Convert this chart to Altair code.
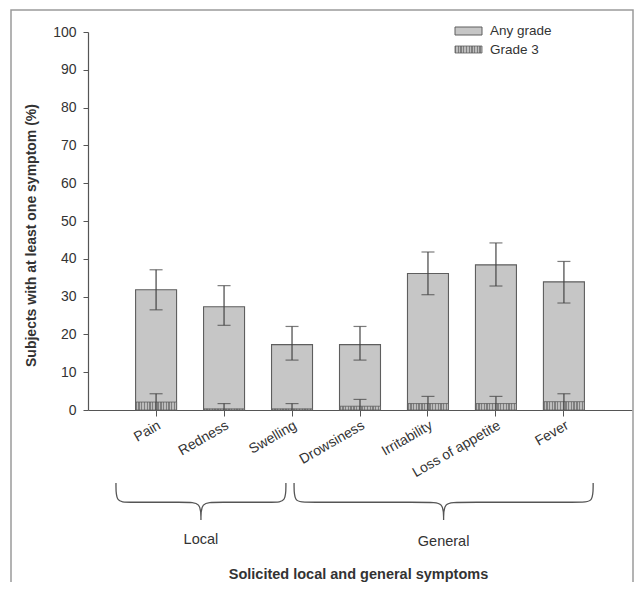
import altair as alt
import pandas as pd

# ---------------- data ----------------
symptoms = ["Pain", "Redness", "Swelling", "Drowsiness", "Irritability", "Loss of appetite", "Fever"]
any_grade = [31.8, 27.3, 17.3, 17.3, 36.1, 38.4, 33.9]
any_lo = [26.5, 22.4, 13.2, 13.2, 30.5, 32.8, 28.3]
any_hi = [37.1, 32.9, 22.1, 22.1, 41.8, 44.2, 39.3]
grade3 = [2.1, 0.3, 0.3, 1.0, 1.7, 1.7, 2.2]
g3_lo = [0, 0, 0, 0, 0, 0, 0]
g3_hi = [4.3, 1.7, 1.7, 2.8, 3.6, 3.6, 4.3]

y_ticks = [0, 10, 20, 30, 40, 50, 60, 70, 80, 90, 100]
legend_labels = ["Any grade", "Grade 3"]

brace_groups = ["Local", "General"]
brace_start = [-0.59, 2.03]   # in category-index units
brace_end = [1.91, 6.43]

y_title = "Subjects with at least one symptom (%)"
x_title = "Solicited local and general symptoms"

# ---------------- layout ----------------
W, H = 544, 378
P_IN, P_OUT = 0.397, 0.7
FONT = "Liberation Sans"
TXT = "#333333"
LINE = "#555555"

df = pd.DataFrame({
    "symptom": symptoms, "any": any_grade, "any_lo": any_lo, "any_hi": any_hi,
    "g3": grade3, "g3_lo": g3_lo, "g3_hi": g3_hi,
})


def stripes(n, c1, c2):
    stops = []
    for k in range(n):
        a, b, c = k / n, (k + 0.5) / n, (k + 1) / n
        stops += [alt.GradientStop(offset=a, color=c1), alt.GradientStop(offset=b, color=c1),
                  alt.GradientStop(offset=b, color=c2), alt.GradientStop(offset=c, color=c2)]
    return alt.Gradient(gradient="linear", stops=stops, x1=0, x2=1, y1=0, y2=0)


hatch_bar = stripes(15, "#7f7f7f", "#bdbdbd")
hatch_leg = stripes(10, "#7f7f7f", "#bdbdbd")

x_enc = alt.X(
    "symptom:N", sort=symptoms, title=x_title,
    scale=alt.Scale(paddingInner=P_IN, paddingOuter=P_OUT),
    axis=alt.Axis(labelAngle=330, labelAlign="right", labelBaseline="top",
                  labelFont=FONT, labelFontSize=14, labelColor=TXT, labelPadding=2,
                  tickSize=6, tickColor=LINE, domainColor=LINE, domainWidth=1.2,
                  titleFont=FONT, titleFontSize=14.5, titleFontWeight="bold", titleColor=TXT,
                  titleX=270, titleY=164, titleBaseline="middle"),
)

y_axis = alt.Axis(values=y_ticks, grid=False, tickSize=5, tickColor=LINE,
                  domainColor=LINE, domainWidth=1.2, labelOverlap=False,
                  labelFont=FONT, labelFontSize=14, labelColor=TXT, labelPadding=7,
                  titleFont=FONT, titleFontSize=14, titleFontWeight="bold",
                  titleColor=TXT, titleX=-57, titleY=203, titleBaseline="middle")
y_scale = alt.Scale(domain=[0, 100], nice=False)


def yq(field):
    return alt.Y(field, type="quantitative", title=y_title, scale=y_scale, axis=y_axis)


base = alt.Chart(df).encode(x=x_enc)

bars_any = base.mark_bar(fill="#c6c6c6", stroke="#5e5e5e", strokeWidth=1.1).encode(y=yq("any"))
bars_g3 = base.mark_bar(fill=hatch_bar, stroke="#5e5e5e", strokeWidth=0.8).encode(y=yq("g3"))

err_any = base.mark_rule(color="#444", strokeWidth=1.2).encode(y=yq("any_lo"), y2="any_hi:Q")
cap_any_hi = base.mark_tick(color="#444", size=13, thickness=1.2).encode(y=yq("any_hi"))
cap_any_lo = base.mark_tick(color="#444", size=13, thickness=1.2).encode(y=yq("any_lo"))
err_g3 = base.mark_rule(color="#444", strokeWidth=1.2).encode(y=yq("g3_lo"), y2="g3_hi:Q")
cap_g3_hi = base.mark_tick(color="#444", size=13, thickness=1.2).encode(y=yq("g3_hi"))

main = alt.layer(bars_any, bars_g3, err_any, cap_any_lo, cap_any_hi, err_g3, cap_g3_hi)

# ---------------- braces below the axis ----------------
step = W / (len(symptoms) - P_IN + 2 * P_OUT)
c0 = (W - step * (len(symptoms) - P_IN)) * 0.5 + step * (1 - P_IN) / 2
idx_domain = [-c0 / step, (W - c0) / step]

rows = []
for g, x0, x1 in zip(brace_groups, brace_start, brace_end):
    m = (x0 + x1) / 2
    r, t = 0.16, 0.22
    pts = [(x0, 0), (x0, 0), (x0, 0.52), (x0 + r, 0.52), (m - t, 0.52), (m, 0.52),
           (m, 1), (m, 1), (m, 1), (m, 0.52), (m + t, 0.52), (x1 - r, 0.52),
           (x1, 0.52), (x1, 0), (x1, 0)]
    for i, (px, pv) in enumerate(pts):
        rows.append({"brace": g, "i": i, "bx": px, "bv": pv})
brace_df = pd.DataFrame(rows)
label_df = pd.DataFrame({"brace": brace_groups,
                         "bx": [(a + b) / 2 for a, b in zip(brace_start, brace_end)],
                         "bv": [1.55, 1.6]})

bx_scale = alt.Scale(domain=idx_domain, nice=False, zero=False)
bv_scale = alt.Scale(domain=[0, 1], range=[H + 73, H + 110], nice=False, zero=False)

brace_lines = alt.Chart(brace_df).mark_line(
    interpolate="basis", color=LINE, strokeWidth=1.3).encode(
    x=alt.X("bx:Q", scale=bx_scale, axis=None),
    y=alt.Y("bv:Q", scale=bv_scale, axis=None),
    detail="brace:N", order="i:Q")
brace_text = alt.Chart(label_df).mark_text(
    font=FONT, fontSize=14.5, color=TXT, baseline="middle").encode(
    x=alt.X("bx:Q", scale=bx_scale, axis=None),
    y=alt.Y("bv:Q", scale=bv_scale, axis=None),
    text="brace:N")
braces = alt.layer(brace_lines, brace_text)

# ---------------- legend & frame ----------------
one = alt.Data(values=[{"k": 1}])
leg1 = alt.Chart(one).mark_rect(fill="#c6c6c6", stroke="#5e5e5e", strokeWidth=1).encode(
    x=alt.value(367), x2=alt.value(394), y=alt.value(-5), y2=alt.value(3))
leg2 = alt.Chart(one).mark_rect(fill=hatch_leg, stroke="#5e5e5e", strokeWidth=0.8).encode(
    x=alt.value(367), x2=alt.value(394), y=alt.value(14), y2=alt.value(21))
leg_t1 = alt.Chart(one).mark_text(font=FONT, fontSize=13.5, color=TXT, align="left",
                                  baseline="middle", text=legend_labels[0]).encode(
    x=alt.value(402), y=alt.value(-1))
leg_t2 = alt.Chart(one).mark_text(font=FONT, fontSize=13.5, color=TXT, align="left",
                                  baseline="middle", text=legend_labels[1]).encode(
    x=alt.value(402), y=alt.value(17.5))
frame = alt.Chart(one).mark_rect(filled=False, stroke="#9a9a9a", strokeWidth=1.5).encode(
    x=alt.value(-77), x2=alt.value(545), y=alt.value(-22), y2=alt.value(620))

chart = alt.layer(frame, main, braces, leg1, leg2, leg_t1, leg_t2).resolve_scale(
    x="independent", y="independent"
).properties(
    width=W, height=H,
    padding={"left": 80, "top": 24, "right": 3, "bottom": 172},
    autosize=alt.AutoSizeParams(type="none"),
    background="white",
).configure_view(stroke=None)

chart.save("out.html", embed_options={"renderer": "svg", "actions": False})
